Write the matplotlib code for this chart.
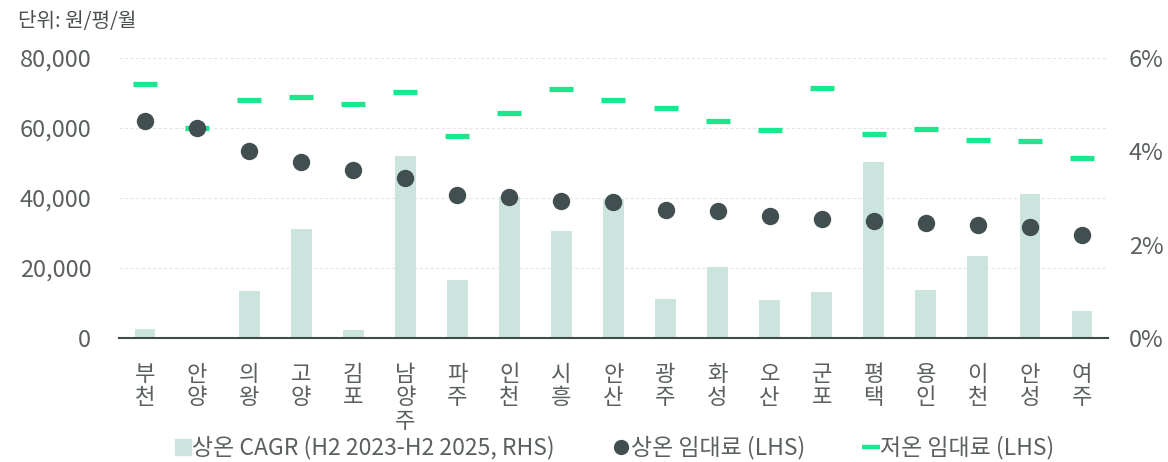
import matplotlib.pyplot as plt
from matplotlib.ticker import FuncFormatter
import numpy as np

plt.rcParams['font.family'] = ['Noto Sans CJK KR', 'DejaVu Sans']

# Data
regions = ['부천', '안양', '의왕', '고양', '김포', '남양주', '파주', '인천', '시흥', '안산',
           '광주', '화성', '오산', '군포', '평택', '용인', '이천', '안성', '여주']
cagr_pct = [0.19, 0.0, 1.01, 2.34, 0.17, 3.89, 1.24, 3.03, 2.29, 2.98,
            0.83, 1.53, 0.81, 0.98, 3.77, 1.03, 1.76, 3.08, 0.57]
rent_high = [62100, 59900, 53400, 50200, 47900, 45600, 40950, 40200, 39150, 38750,
             36500, 36200, 34800, 34000, 33500, 32750, 32300, 31800, 29500]
rent_low = [72500, 59900, 67900, 68800, 66800, 70200, 57600, 64200, 71050, 67900,
            65600, 61900, 59350, 71350, 58200, 59650, 56500, 56200, 51350]
lhs_ticks = [0, 20000, 40000, 60000, 80000]
rhs_ticks = [0, 2, 4, 6]

bar_color = '#cce4de'
dot_color = '#414f50'
dash_color = '#1de68f'
text_color = '#5a5f5f'

fig = plt.figure(figsize=(11.68, 4.62), dpi=100)
ax = fig.add_axes([119 / 1168, 1 - 338 / 462, (1108 - 119) / 1168, (338 - 58) / 462])
ax2 = ax.twinx()
ax.set_zorder(ax2.get_zorder() + 1)
ax.patch.set_visible(False)

x = np.arange(len(regions))

# RHS bars, gridlines follow the LHS ticks but sit behind the bars
ax2.set_ylim(0, 6)
for v in lhs_ticks[1:]:
    ax2.axhline(v / lhs_ticks[-1] * 6, color='#e6e6e6', linestyle=(0, (3, 2)),
                linewidth=0.8, zorder=1)
ax2.bar(x, cagr_pct, width=0.4, color=bar_color, zorder=2)
ax2.set_yticks(rhs_ticks)
ax2.yaxis.set_major_formatter(FuncFormatter(lambda v, p: f'{v:.0f}%'))

# LHS markers
ax.plot(x, rent_high, 'o', color=dot_color, markersize=11.5, zorder=4)
ax.plot(x, rent_low, '_', color=dash_color, markersize=17.5, markeredgewidth=3.8, zorder=3)
ax.set_ylim(0, 80000)
ax.set_yticks(lhs_ticks)
ax.yaxis.set_major_formatter(FuncFormatter(lambda v, p: f'{v:,.0f}'))
ax.set_xlim(-0.5, len(regions) - 0.5)
ax.set_xticks(x)
ax.set_xticklabels(['\n'.join(r) for r in regions], fontsize=16, color=text_color,
                   linespacing=1.02, va='top')

for a in (ax, ax2):
    for s in ('top', 'left', 'right'):
        a.spines[s].set_visible(False)
    a.tick_params(length=0)
ax2.spines['bottom'].set_visible(False)
ax.spines['bottom'].set_color('#3e4a4b')
ax.spines['bottom'].set_linewidth(1.5)
ax.tick_params(axis='y', labelsize=17, labelcolor=text_color, pad=20)
ax.tick_params(axis='x', pad=18)
ax2.tick_params(axis='y', labelsize=17, labelcolor=text_color, pad=15)

fig.text(18 / 1168, 1 - 22 / 462, '단위: 원/평/월', fontsize=14.5, color='#4a4f4f', va='center')

handles = [
    plt.Line2D([], [], marker='s', linestyle='none', color=bar_color, markersize=11),
    plt.Line2D([], [], marker='o', linestyle='none', color=dot_color, markersize=10),
    plt.Line2D([], [], marker='_', linestyle='none', color=dash_color, markersize=13,
               markeredgewidth=3.2),
]
labels = ['상온 CAGR (H2 2023-H2 2025, RHS)', '상온 임대료 (LHS)', '저온 임대료 (LHS)']
fig.legend(handles, labels, loc='center', bbox_to_anchor=(0.527, 1 - 448 / 462), ncol=3,
           frameon=False, fontsize=16.5, handlelength=0.6, handletextpad=0.1,
           columnspacing=2.6, labelcolor=text_color)

fig.savefig('out.png', dpi=100)
